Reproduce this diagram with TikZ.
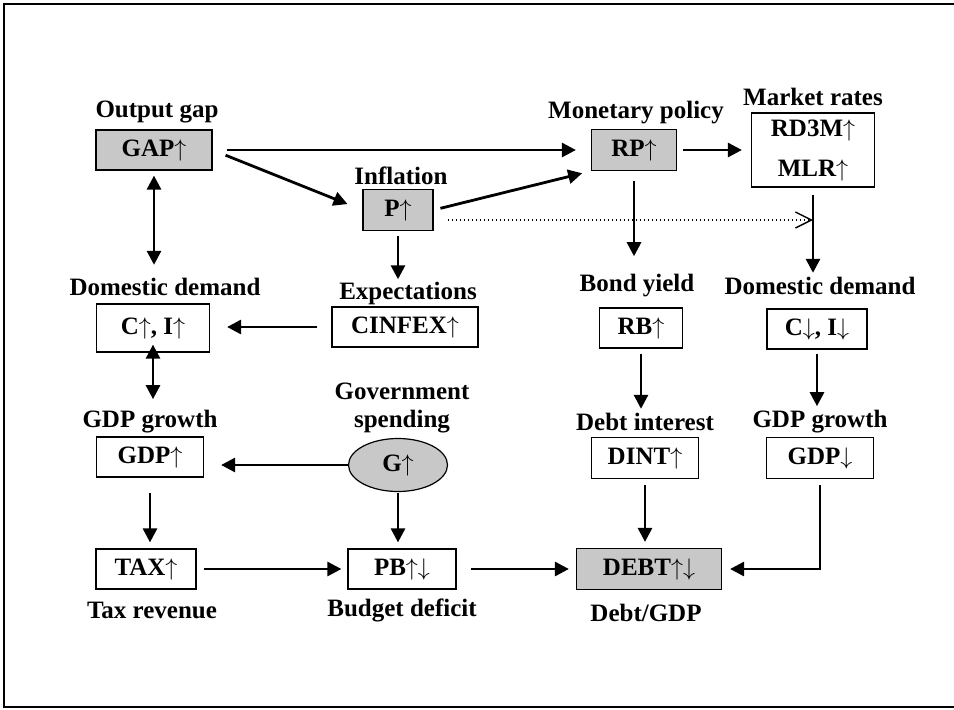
\documentclass[tikz,border=0pt]{standalone}
\usepackage{fontspec}
\setmainfont{Liberation Serif}
\usetikzlibrary{arrows.meta,shapes.geometric}
\definecolor{boxgray}{RGB}{200,200,200}
\newcommand{\myup}{\ensuremath{\uparrow}}
\newcommand{\mydn}{\ensuremath{\downarrow}}
\begin{document}
\begin{tikzpicture}[x=0.5pt,y=-0.5pt,
 every node/.style={font=\bfseries\fontsize{12.5}{14}\selectfont, inner sep=0pt},
 bx/.style={draw, line width=0.6pt, minimum height=20pt, align=center},
 gbx/.style={bx, fill=boxgray},
 lbl/.style={align=center},
 arr/.style={line width=1.4pt, -{Triangle[length=7pt,width=7pt]}},
 darr/.style={line width=1.4pt, {Triangle[length=7pt,width=7pt]}-{Triangle[length=7pt,width=7pt]}},
 dotarr/.style={line width=0.7pt, dash pattern=on 0.7pt off 1.3pt, -{Straight Barb[length=8pt,width=8pt,line width=0.7pt]}},
 ]
\useasboundingbox (0,0) rectangle (954,709);
% frame
\draw[line width=0.8pt] (960,4) -- (4,4) -- (4,707) -- (960,707);

% boxes
\node[gbx, minimum width=58pt] (gap) at (154,150) {GAP\myup};
\node[gbx, minimum width=35pt, minimum height=20.5pt] (p) at (398,210) {P\myup};
\node[gbx, minimum width=42.5pt, minimum height=20.5pt] (rp) at (634,150) {RP\myup};
\node[bx, minimum width=61.5pt, minimum height=37pt, font=\bfseries\fontsize{12.5}{20}\selectfont] (mr) at (813,150) {RD3M\myup\\MLR\myup};
\node[bx, minimum width=56.5pt, minimum height=24pt] (ci) at (153,328) {C\myup, I\myup};
\node[bx, minimum width=73pt] (cinfex) at (405,327) {CINFEX\myup};
\node[bx, minimum width=41.5pt] (rb) at (641,328) {RB\myup};
\node[bx, minimum width=50pt] (cd) at (817,329) {C\mydn, I\mydn};
\node[bx, minimum width=53.5pt] (gdp) at (150,457) {GDP\myup};
\node[ellipse, draw, line width=0.6pt, fill=boxgray, minimum width=49.5pt, minimum height=26.5pt] (g) at (398,465) {G\myup};
\node[bx, minimum width=53.5pt, minimum height=20.5pt] (dint) at (645,458) {DINT\myup};
\node[bx, minimum width=53.5pt, minimum height=20.5pt] (gdpd) at (820,458) {GDP\mydn};
\node[bx, minimum width=50pt] (tax) at (146,569) {TAX\myup};
\node[bx, minimum width=54pt] (pb) at (402,569) {PB\myup\mydn};
\node[gbx, minimum width=72.5pt, minimum height=20.5pt] (debt) at (649,569) {DEBT\myup\mydn};

% labels
\node[lbl] (lgap) at (157,112) {Output gap};
\node[lbl] (lp) at (401,176) {Inflation};
\node[lbl] (lrp) at (636,113) {Monetary policy};
\node[lbl] (lmr) at (813,97) {Market rates};
\node[lbl] (lci) at (165,287) {Domestic demand};
\node[lbl] (lcinfex) at (408,293) {Expectations};
\node[lbl] (lrb) at (637,286) {Bond yield};
\node[lbl] (lcd) at (820,286) {Domestic demand};
\node[lbl] (lgdp) at (150,422) {GDP growth};
\node[lbl] (lg) at (402,408) {Government\\spending};
\node[lbl] (ldint) at (645,422) {Debt interest};
\node[lbl] (lgdpd) at (820,422) {GDP growth};
\node[lbl] (ltax) at (152,610) {Tax revenue};
\node[lbl] (lpb) at (402,610) {Budget deficit};
\node[lbl] (ldebt) at (646,613) {Debt/GDP};

% connectors
\draw[arr, shorten <=7pt, shorten >=7.5pt] (gap.east) -- (gap.east -| rp.west);
\draw[arr, shorten <=7pt, shorten >=8pt] (gap.east) -- (p.west);
\draw[arr, shorten <=3.5pt, shorten >=4.5pt] (p.east) -- (rp.south west);
\draw[arr, shorten <=3pt, shorten >=4.5pt] (rp.east) -- (rp.east -| mr.west);
\draw[arr, shorten <=5pt, shorten >=9pt] (rp.south) -- (rp.south |- lrb.north);
\draw[arr, shorten <=3.5pt, shorten >=2pt] (mr.south) -- (mr.south |- lcd.north);
\coordinate (dots) at ([yshift=-5pt]p.east);
\coordinate (dote) at (mr.south |- dots);
\draw[dotarr, shorten <=7pt] (dots) -- (dote);
\draw[arr, shorten <=2.5pt, shorten >=1pt] (p.south) -- (p.south |- lcinfex.north);
\draw[darr, shorten <=2.5pt, shorten >=6.5pt] (gap.south) -- (gap.south |- lci.north);
\draw[arr, shorten <=7pt, shorten >=8.5pt] (cinfex.west) -- (cinfex.west -| ci.east);
\draw[darr, shorten <=-4pt, shorten >=5.5pt] (ci.south) -- (ci.south |- lgdp.north);
\draw[arr, shorten >=8.5pt] (g.west) -- (g.west -| gdp.east);
\draw[arr, shorten <=7.5pt, shorten >=3pt] (gdp.south) -- (gdp.south |- tax.north);
\draw[arr, shorten <=0.5pt, shorten >=3pt] (g.south) -- (g.south |- pb.north);
\draw[arr, shorten <=3.5pt, shorten >=3pt] (tax.east) -- (tax.east -| pb.west);
\draw[arr, shorten <=7pt, shorten >=3.5pt] (pb.east) -- (pb.east -| debt.west);
\draw[arr, shorten <=2.5pt, shorten >=2pt] (rb.south) -- (rb.south |- ldint.north);
\draw[arr, shorten <=3pt, shorten >=3pt] (dint.south) -- (dint.south |- debt.north);
\draw[arr, shorten <=2pt, shorten >=2pt] (cd.south) -- (cd.south |- lgdpd.north);
\draw[arr, shorten <=3pt, shorten >=4pt] (gdpd.south) |- (debt.east);
\end{tikzpicture}
\end{document}
